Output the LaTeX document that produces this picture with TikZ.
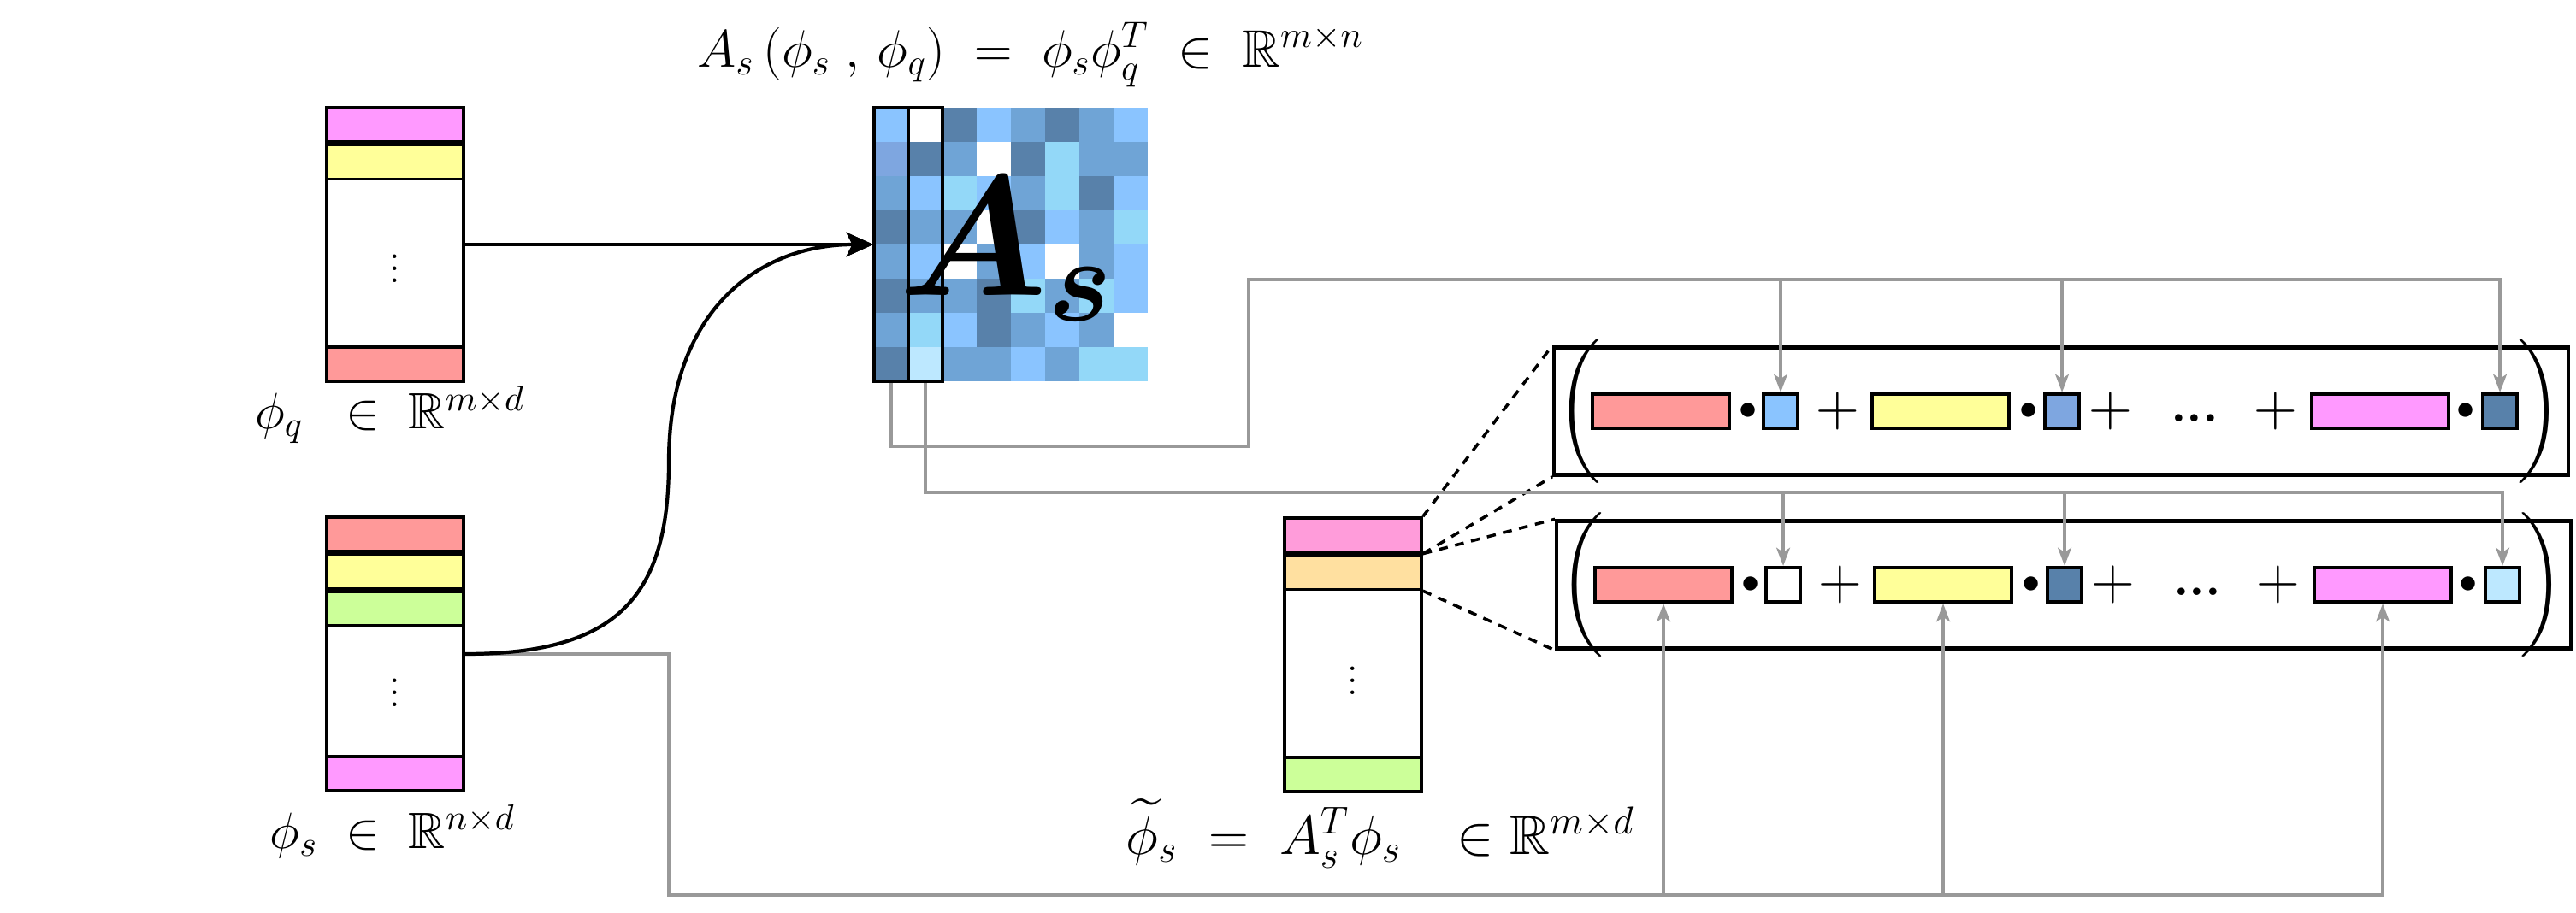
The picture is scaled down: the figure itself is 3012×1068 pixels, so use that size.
\documentclass[tikz,border=0pt]{standalone}
\usepackage{fix-cm}
\usepackage{amsmath}
\usepackage{amssymb}
\usepackage{bm}
\usetikzlibrary{positioning}
\usetikzlibrary{arrows.meta}

\definecolor{cRed}{HTML}{FF9999}
\definecolor{cYel}{HTML}{FFFF99}
\definecolor{cMag}{HTML}{FF99FF}
\definecolor{cGrn}{HTML}{CCFF99}
\definecolor{cRose}{HTML}{FF9CDA}
\definecolor{cOra}{HTML}{FFE0A0}
\definecolor{mL}{HTML}{8AC4FF}
\definecolor{mM}{HTML}{6FA4D6}
\definecolor{mD}{HTML}{5881AA}
\definecolor{mC}{HTML}{93D8F8}
\definecolor{mP}{HTML}{7EA6E0}
\definecolor{mV}{HTML}{BDE8FF}
\definecolor{mW}{HTML}{FFFFFF}
\definecolor{lgray}{HTML}{999999}

\tikzset{
  cell/.style={draw, line width=1pt, minimum width=1.6cm, minimum height=0.4cm, inner sep=0pt},
  vecbox/.style={draw, line width=1pt, minimum width=1.6cm, minimum height=3.2cm, inner sep=0pt},
  colbox/.style={draw, line width=1.2pt, minimum width=0.4cm, minimum height=3.2cm, inner sep=0pt},
  bar/.style={draw, line width=1.2pt, minimum width=1.6cm, minimum height=0.4cm, inner sep=0pt},
  sq/.style={draw, line width=1.2pt, minimum width=0.4cm, minimum height=0.4cm, inner sep=0pt},
  sumbox/.style={draw, line width=1.2pt, minimum width=11.85cm, minimum height=1.49cm, inner sep=0pt},
  lbl/.style={font=\fontsize{17}{20}\selectfont, inner sep=0pt},
  op/.style={font=\fontsize{20}{20}\selectfont, inner sep=0pt},
  dotop/.style={font=\fontsize{12}{12}\selectfont, inner sep=0pt},
  vdots/.style={font=\fontsize{13}{13}\selectfont, inner sep=0pt},
  feed/.style={line width=1.2pt, -{Stealth[length=9pt,width=8pt,inset=2pt]}},
  linkarrow/.style={lgray, line width=1pt, -{Stealth[length=6pt,width=4.5pt,inset=1.5pt]}},
  zoomline/.style={line width=1pt, dash pattern=on 3pt off 2.5pt},
}

\begin{document}
\begin{tikzpicture}[x=0.01cm, y=-0.01cm]
\useasboundingbox (0,0) rectangle (3012,1068);

% query features
\node[vecbox] (phiq) at (462,286) {};
\node[cell, fill=cMag, below=0pt of phiq.north] (q1) {};
\node[cell, fill=cYel, below=0pt of q1] (q2) {};
\node[cell, fill=cRed, above=0pt of phiq.south] (q8) {};
\node[vdots] at (462,304) {$\vdots$};
\node[lbl] (lq) at (456,485) {$\phi_q \;\;\in\; \mathbb{R}^{m\times d}$};

% support features
\node[vecbox] (phis) at (462,765) {};
\node[cell, fill=cRed, below=0pt of phis.north] (s1) {};
\node[cell, fill=cYel, below=0pt of s1] (s2) {};
\node[cell, fill=cGrn, below=0pt of s2] (s3) {};
\node[cell, fill=cMag, above=0pt of phis.south] (s8) {};
\node[vdots] at (462,800) {$\vdots$};
\node[lbl] (ls) at (459,973) {$\phi_s \;\in\; \mathbb{R}^{n\times d}$};

% attention matrix
\node[minimum size=3.2cm, inner sep=0pt] (mat) at (1182,286) {};
\foreach \i/\rowcols in {1/{L,W,D,L,M,D,M,L}, 2/{P,D,M,W,D,C,M,M},
    3/{M,L,C,L,M,C,D,L}, 4/{D,M,M,W,D,L,M,C}, 5/{M,L,W,M,L,W,M,L},
    6/{D,M,M,D,C,M,C,L}, 7/{M,C,L,D,M,L,M,W}, 8/{D,V,M,M,L,M,C,C}}
  \foreach \c [count=\j] in \rowcols
    \fill[m\c] ({1022+40*(\j-1)},{126+40*(\i-1)}) rectangle ++(40,40);
\node[colbox] (col1) at (1042,286) {};
\node[colbox] (col2) at (1082,286) {};
\node[font=\fontsize{57}{57}\selectfont, inner sep=0pt] (Abig) at (1176,292) {$\boldsymbol{A_s}$};
\node[lbl, font=\fontsize{17.5}{20}\selectfont] (lA) at (1205,64)
  {$A_s\,(\phi_s\;,\,\phi_q) \;=\; \phi_s\phi_q^T \;\in\; \mathbb{R}^{m\times n}$};

% transformed support features
\node[vecbox] (phit) at (1582,766) {};
\node[cell, fill=cRose, below=0pt of phit.north] (t1) {};
\node[cell, fill=cOra, below=0pt of t1] (t2) {};
\node[cell, fill=cGrn, above=0pt of phit.south] (t8) {};
\node[vdots] at (1582,786) {$\vdots$};
\node[lbl, font=\fontsize{18.5}{20}\selectfont] (lt) at (1614,975)
  {$\widetilde{\phi}_s \;=\; A_s^T\phi_s \quad{\in}\;\mathbb{R}^{m\times d}$};

% weighted sums
\foreach \k/\ya/\xa/\ca/\cb/\cc in {1/481/2410/mL/mP/mD, 2/684/2413/mW/mD/mV} {
  \node[sumbox] (sum\k) at (\xa,\ya) {};
  \path (sum\k.west)
    ++(33,0) node[op] (lp\k) {$\left(\vrule height 0.58cm depth 0.58cm width 0pt\right.$}
    ++(94,0) node[bar, fill=cRed] (r\k) {}
    ++(102,0) node[dotop] {$\bullet$}
    ++(38,0) node[sq, fill=\ca] (s\k1) {}
    ++(67,0) node[op] {$+$}
    ++(120,0) node[bar, fill=cYel] (y\k) {}
    ++(103,0) node[dotop] {$\bullet$}
    ++(39,0) node[sq, fill=\cb] (s\k2) {}
    ++(57,0) node[op] {$+$}
    ++(98,0) node[op, font=\fontsize{17}{17}\selectfont, yshift=-0.08cm] {\textbf{...}}
    ++(95,0) node[op] {$+$}
    ++(122,0) node[bar, fill=cMag] (p\k) {}
    ++(100,0) node[dotop] {$\bullet$}
    ++(40,0) node[sq, fill=\cc] (s\k3) {}
    ++(44,0) node[op] (rp\k) {$\left.\vrule height 0.58cm depth 0.58cm width 0pt\right)$};
}

% zoom lines
\draw[zoomline] (t1.north east) -- (sum1.north west);
\draw[zoomline] (t1.south east) -- (sum1.south west);
\draw[zoomline] (t2.north east) -- (sum2.north west);
\draw[zoomline] (t2.south east) -- (sum2.south west);

% gray links
\coordinate (run1) at (1460,327);
\coordinate (run2) at (0,576);
\coordinate (run3) at (782,1047);
\draw[linkarrow] (col1.south) |- (run1 |- 0,522) -- (run1) -| (s13.north);
\draw[linkarrow] (s11.north |- run1) -- (s11.north);
\draw[linkarrow] (s12.north |- run1) -- (s12.north);
\draw[linkarrow] (col2.south) |- (s23.north |- run2) -- (s23.north);
\draw[linkarrow] (s21.north |- run2) -- (s21.north);
\draw[linkarrow] (s22.north |- run2) -- (s22.north);
\draw[linkarrow] (phis.east) -| (run3) -| (p2.south);
\draw[linkarrow] (r2.south |- run3) -- (r2.south);
\draw[linkarrow] (y2.south |- run3) -- (y2.south);

% black feeds
\draw[feed] (phiq.east) -- (mat.west);
\draw[feed] (phis.east) .. controls (720,765) and (782,700) .. (782,540)
  .. controls (782,360) and (890,286) .. (mat.west);
\end{tikzpicture}
\end{document}
